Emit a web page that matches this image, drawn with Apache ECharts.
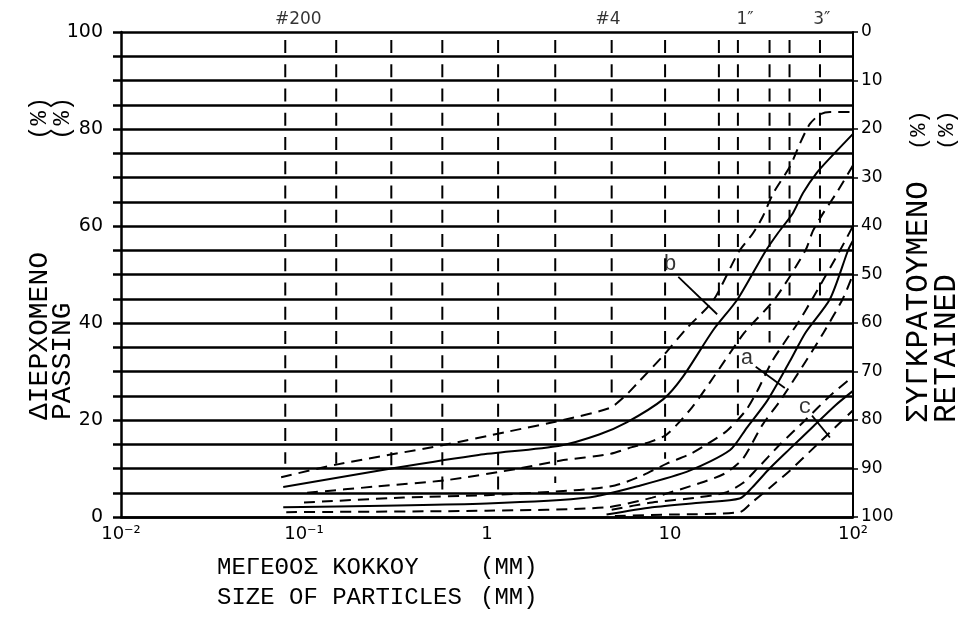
<!DOCTYPE html>
<html>
<head>
<meta charset="utf-8">
<script src="https://cdn.jsdelivr.net/npm/echarts/dist/echarts.min.js"></script>
<style>
html,body{margin:0;padding:0;background:#fff;}
#chart{width:965px;height:621px;}
</style>
</head>
<body>
<div id="chart"></div>
<script>
// ---- data (particle size in mm, percent passing) ----
const xTickValues = [0.01, 0.1, 1, 10, 100];
const xTickLabels = ['10\u207B\u00B2', '10\u207B\u00B9', '1', '10', '10\u00B2'];
const passingTicks = [0, 20, 40, 60, 80, 100];
const retainedTicks = [0, 10, 20, 30, 40, 50, 60, 70, 80, 90, 100];

const sieveSizes = [0.079, 0.15, 0.3, 0.57, 1.15, 2.36, 4.8, 9.4, 18.5, 23.5, 35, 45, 66];
const sieveBottoms = [11, 11, 9, 5.5, 5, 7, 24, 12, 44, 21, 36, 44, 44];
const sieveNames = ['#200', '#4', '1\u2033', '3\u2033'];
const sieveNameX = [0.093, 4.58, 25.7, 67.6];

const bUpper = [[0.075,8.2],[0.15,10.8],[0.57,14.8],[1.3,17.6],[2.6,20],[4.7,22.5],[5.7,25],[6.6,27.5],[9.2,33.3],[12.4,39],[17.2,44.6],[23.6,54.5],[28.4,58.5],[32.2,62],[36.6,66.7],[45.3,72.3],[51.3,77],[58,81],[66,83],[75,83.5],[100,83.5]];
const bMid = [[0.077,6.2],[0.3,10],[0.9,12.8],[2.5,14.7],[4.1,17],[5.8,19.5],[9.2,24.3],[11.8,29],[17.2,38.5],[23.5,45],[33,54.6],[39,58.6],[47,62.7],[53.3,66.8],[63.5,71],[74.8,74],[100,79]];
const bLower = [[0.104,5],[0.25,6.3],[0.6,7.6],[1.5,10],[2.5,11.6],[4.7,13],[6.2,14.4],[7.8,15.5],[9.6,17],[13.2,22.6],[17.2,28.7],[25.5,38],[37.5,45],[55,55],[60.4,59],[68.6,62.6],[81.8,67],[100,72.5]];
const aUpper = [[0.1,3],[0.35,4],[1,4.5],[3,5.5],[5,6.5],[7,8.5],[9.6,11],[12.9,13],[15.9,15],[20.5,17.8],[26,22],[30,26],[36,32],[44,37],[50,40],[60,45],[85,55],[100,60]];
const aMid = [[0.077,2],[1,2.8],[3.6,4],[6.9,6.5],[12.9,9.6],[21.3,13.8],[26.4,18.5],[34,24],[45,32],[55,38],[75,45],[94,55],[100,57]];
const aLower = [[0.08,1],[1,1.3],[4.5,2],[8,4],[14.6,7],[20,9],[25,12],[32,19],[40,24],[55,32],[69,38],[88,45],[100,50]];
const cUpper = [[4.8,1.5],[8,3],[14,4],[20,5],[25,7],[30,10],[40,15],[55,20],[75,25],[100,29]];
const cMid = [[4.5,0.5],[8,2],[15,3],[24,3.8],[28,6],[35,10],[45,14],[60,18.5],[80,23],[100,26]];
const cLower = [[5,0.2],[10,0.5],[24,1],[28,3],[35,6],[45,9.5],[60,14],[80,18.5],[100,22]];

const groupNames = ['a', 'b', 'c'];
const groupNamePos = [[26.4,32.8],[10,52.2],[54.7,22.6]];
const groupLeaders = [
  [[29.4,31],[42.4,26.6]],
  [[11.1,49.5],[18.1,41.8]],
  [[59.7,20.9],[74.8,16.4]]
];

// ---- chart ----
const chart = echarts.init(document.getElementById('chart'), null, {renderer:'canvas'});
const BLACK = '#000';
const DASH = [11, 7];
const series = [];

sieveSizes.forEach((s, i) => {
  series.push({
    type:'line', data:[[s,100],[s,sieveBottoms[i]]], symbol:'none', silent:true,
    lineStyle:{color:BLACK, width:2, type:[13,11.25], dashOffset:16.25}, z:2
  });
});

const curves = [
  [bUpper,'dashed'],[bMid,'solid'],[bLower,'dashed'],
  [aUpper,'dashed'],[aMid,'solid'],[aLower,'dashed'],
  [cUpper,'dashed'],[cMid,'solid'],[cLower,'dashed']
];
curves.forEach(([d, kind]) => {
  series.push({
    type:'line', data:d, symbol:'none', silent:true, smooth:0.25,
    lineStyle:{color:BLACK, width:2, type: kind === 'solid' ? 'solid' : DASH}, z:3
  });
});

groupLeaders.forEach(seg => {
  series.push({type:'line', data:seg, symbol:'none', silent:true, lineStyle:{color:BLACK, width:1.8}, z:3});
});

series.push({
  type:'scatter', symbolSize:0, silent:true, clip:false,
  data: groupNames.map((n, i) => ({name:n, value:groupNamePos[i]})),
  label:{show:true, position:'inside', formatter:p => p.name, color:BLACK, fontSize:22, fontFamily:'Liberation Mono'}
});

series.push({
  type:'scatter', symbolSize:0, silent:true, clip:false,
  data: sieveNames.map((n, i) => ({name:n, value:[sieveNameX[i],100]})),
  label:{show:true, position:'top', distance:4, formatter:p => p.name, color:BLACK, fontSize:17, fontFamily:'DejaVu Sans'}
});

function vtext(x, y, text, size) {
  return {type:'text', x:x, y:y, rotation:Math.PI/2,
    style:{text:text, font:size + 'px "Liberation Mono"', fill:BLACK, align:'left', verticalAlign:'middle'}};
}
function htext(x, y, text) {
  return {type:'text', x:x, y:y,
    style:{text:text, font:'24px "Liberation Mono"', fill:BLACK, align:'left', verticalAlign:'middle'}};
}

const option = {
  backgroundColor:'#fff',
  animation:false,
  grid:{left:121, right:112, top:32, bottom:104},
  xAxis:{
    type:'log', logBase:10, min:0.01, max:100,
    axisLine:{show:true, lineStyle:{color:BLACK, width:2.5}},
    axisTick:{show:false},
    splitLine:{show:false},
    minorTick:{show:false},
    axisLabel:{
      color:BLACK, fontSize:18, fontFamily:'DejaVu Sans', margin:8,
      formatter:v => {
        const i = xTickValues.findIndex(t => Math.abs(Math.log10(t) - Math.log10(v)) < 1e-6);
        return i >= 0 ? xTickLabels[i] : '';
      }
    }
  },
  yAxis:[{
    type:'value', min:0, max:100, interval:5,
    axisLine:{show:true, lineStyle:{color:BLACK, width:2.5}},
    axisTick:{show:true, length:8, lineStyle:{color:BLACK, width:2.5}},
    splitLine:{show:true, lineStyle:{color:BLACK, width:2.5}},
    axisLabel:{
      color:BLACK, fontSize:19, fontFamily:'DejaVu Sans', margin:18,
      formatter:v => passingTicks.indexOf(v) >= 0 ? String(v) : ''
    }
  },{
    type:'value', position:'right', inverse:true, min:0, max:100, interval:10,
    axisLine:{show:true, lineStyle:{color:BLACK, width:2}},
    axisTick:{show:true, length:5, lineStyle:{color:BLACK, width:1.5}},
    splitLine:{show:false},
    axisLabel:{
      color:BLACK, fontSize:17, fontFamily:'DejaVu Sans', margin:8,
      formatter:v => retainedTicks.indexOf(v) >= 0 ? String(v) : ''
    }
  }],
  graphic:[
    vtext(40, 420, 'ΔΙΕΡΧΟΜΕΝΟ', 28),
    vtext(40, 140, '(%)', 24),
    vtext(63, 420, 'PASSING', 28),
    vtext(63, 140, '(%)', 24),
    vtext(919, 423, 'ΣΥΓΚΡΑΤΟΥΜΕΝΟ', 31),
    vtext(919, 150, '(%)', 22),
    vtext(947, 423, 'RETAINED', 31),
    vtext(947, 150, '(%)', 22),
    htext(217, 568, 'ΜΕΓΕΘΟΣ ΚΟΚΚΟΥ'),
    htext(480, 568, '(MM)'),
    htext(217, 598, 'SIZE OF PARTICLES'),
    htext(480, 598, '(MM)')
  ],
  series:series
};
chart.setOption(option);
</script>
</body>
</html>
